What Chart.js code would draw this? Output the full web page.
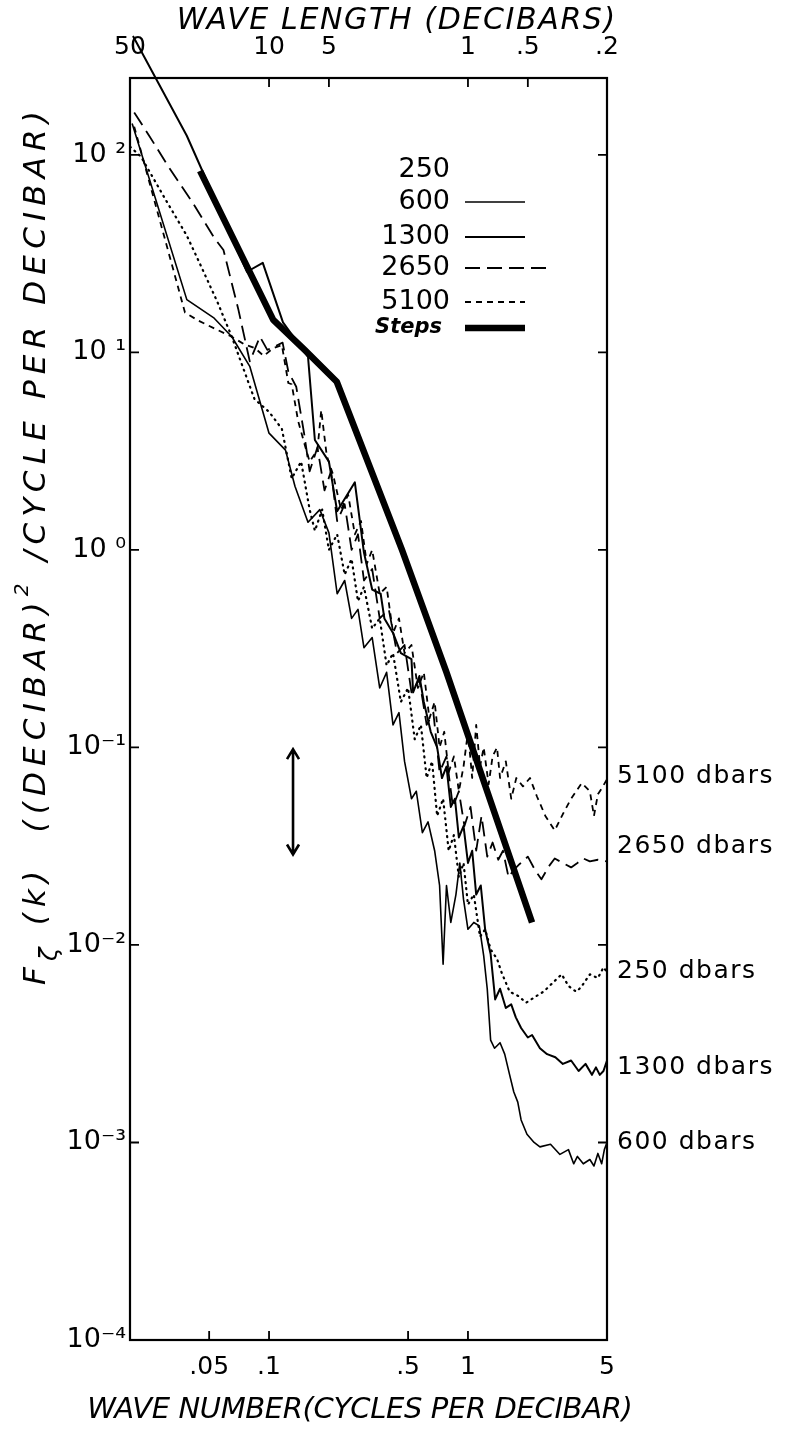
<!DOCTYPE html>
<html>
<head>
<meta charset="utf-8">
<title>Wave number spectra</title>
<script src="https://cdn.jsdelivr.net/npm/chart.js@4.4.1/dist/chart.umd.min.js"></script>
<style>
html,body{margin:0;padding:0;background:#ffffff;}
canvas{display:block;}
</style>
</head>
<body>
<canvas id="chart" width="787" height="1429"></canvas>
<script>
// ---------------- DATA ----------------
const seriesNames = ['250', '600', '1300', '2650', '5100', 'Steps'];

const k250 = [0.02, 0.0227, 0.03, 0.0386, 0.045, 0.055, 0.065, 0.0845, 0.1, 0.116, 0.13, 0.145, 0.16, 0.17, 0.185, 0.2, 0.22, 0.24, 0.26, 0.28, 0.3, 0.33, 0.36, 0.39, 0.42, 0.46, 0.5, 0.54, 0.58, 0.62, 0.66, 0.7, 0.75, 0.8, 0.85, 0.9, 0.95, 1.0, 1.07, 1.15, 1.22, 1.3, 1.4, 1.48, 1.62, 1.8, 1.96, 2.2, 2.4, 2.74, 2.96, 3.2, 3.5, 3.7, 4.1, 4.5, 4.8, 5.0];
const v250 = [110, 98, 60, 39, 28, 18, 12, 5.8, 5.0, 4.1, 2.3, 2.8, 1.6, 1.25, 1.6, 1.0, 1.2, 0.75, 0.9, 0.55, 0.65, 0.4, 0.45, 0.26, 0.3, 0.17, 0.2, 0.11, 0.13, 0.07, 0.085, 0.045, 0.055, 0.03, 0.036, 0.022, 0.026, 0.016, 0.018, 0.011, 0.012, 0.0095, 0.0085, 0.0072, 0.0058, 0.0055, 0.0051, 0.0055, 0.0058, 0.0066, 0.0071, 0.0062, 0.0058, 0.0061, 0.0071, 0.0068, 0.0077, 0.0073];

const k600 = [0.0205, 0.0386, 0.053, 0.065, 0.08, 0.1, 0.121, 0.135, 0.157, 0.18, 0.2, 0.22, 0.24, 0.26, 0.28, 0.3, 0.33, 0.36, 0.39, 0.42, 0.45, 0.48, 0.52, 0.55, 0.59, 0.63, 0.68, 0.72, 0.75, 0.78, 0.82, 0.87, 0.91, 0.95, 1.0, 1.07, 1.14, 1.2, 1.25, 1.3, 1.36, 1.45, 1.53, 1.62, 1.7, 1.78, 1.85, 1.98, 2.15, 2.3, 2.6, 2.9, 3.2, 3.4, 3.55, 3.8, 4.1, 4.3, 4.5, 4.7, 4.85, 5.0];
const v600 = [144, 18.5, 14.9, 12, 8.5, 3.9, 3.2, 2.1, 1.38, 1.6, 1.22, 0.6, 0.7, 0.45, 0.5, 0.32, 0.36, 0.2, 0.24, 0.13, 0.15, 0.085, 0.055, 0.06, 0.037, 0.042, 0.03, 0.02, 0.008, 0.02, 0.013, 0.018, 0.026, 0.017, 0.012, 0.013, 0.0125, 0.0088, 0.006, 0.0033, 0.003, 0.0032, 0.0028, 0.0022, 0.0018, 0.0016, 0.0013, 0.0011, 0.001, 0.00095, 0.00098, 0.00087, 0.00092, 0.00078, 0.00085, 0.00078, 0.00082, 0.00076, 0.00088, 0.00078, 0.00092, 0.001];

const k1300 = [0.0207, 0.0386, 0.0775, 0.093, 0.1175, 0.157, 0.17, 0.2, 0.22, 0.27, 0.3, 0.33, 0.364, 0.38, 0.42, 0.46, 0.52, 0.53, 0.57, 0.6, 0.65, 0.7, 0.74, 0.78, 0.82, 0.86, 0.9, 0.95, 1.0, 1.05, 1.1, 1.16, 1.22, 1.3, 1.37, 1.45, 1.55, 1.65, 1.74, 1.85, 2.0, 2.1, 2.3, 2.5, 2.75, 3.0, 3.3, 3.6, 3.9, 4.2, 4.4, 4.6, 4.8, 5.0];
const v1300 = [400, 125, 25.6, 28.4, 14.2, 9.5, 3.6, 2.8, 1.57, 2.2, 0.97, 0.63, 0.6, 0.45, 0.38, 0.3, 0.28, 0.19, 0.23, 0.17, 0.12, 0.1, 0.07, 0.08, 0.05, 0.055, 0.035, 0.04, 0.026, 0.03, 0.018, 0.02, 0.012, 0.009, 0.0053, 0.006, 0.0048, 0.005, 0.0043, 0.0038, 0.0034, 0.0035, 0.003, 0.0028, 0.0027, 0.0025, 0.0026, 0.0023, 0.0025, 0.0022, 0.0024, 0.0022, 0.0023, 0.0026];

const k2650 = [0.021, 0.0251, 0.031, 0.041, 0.053, 0.059, 0.070, 0.08, 0.09, 0.098, 0.117, 0.125, 0.137, 0.15, 0.16, 0.175, 0.19, 0.205, 0.22, 0.24, 0.26, 0.28, 0.3, 0.33, 0.36, 0.4, 0.44, 0.48, 0.52, 0.57, 0.62, 0.67, 0.72, 0.78, 0.84, 0.9, 0.96, 1.03, 1.1, 1.17, 1.25, 1.33, 1.42, 1.5, 1.6, 1.7, 1.82, 2.0, 2.17, 2.34, 2.55, 2.73, 3.0, 3.3, 3.55, 3.8, 4.1, 4.5, 5.0];
const v2650 = [164, 124, 88, 58, 38, 33, 16.6, 9, 12, 10.3, 11.2, 8, 6.7, 3.9, 2.5, 3.3, 2.0, 2.5, 1.4, 1.7, 1.0, 1.2, 0.7, 0.8, 0.45, 0.5, 0.3, 0.33, 0.19, 0.22, 0.13, 0.15, 0.075, 0.09, 0.05, 0.06, 0.04, 0.05, 0.03, 0.045, 0.028, 0.033, 0.027, 0.03, 0.022, 0.024, 0.0257, 0.028, 0.024, 0.0215, 0.025, 0.0274, 0.026, 0.0247, 0.026, 0.0274, 0.0265, 0.027, 0.0265];

const k5100 = [0.021, 0.0378, 0.044, 0.055, 0.065, 0.075, 0.085, 0.094, 0.105, 0.116, 0.125, 0.13, 0.14, 0.15, 0.16, 0.175, 0.183, 0.195, 0.21, 0.23, 0.25, 0.27, 0.29, 0.31, 0.33, 0.36, 0.39, 0.42, 0.45, 0.48, 0.52, 0.56, 0.6, 0.64, 0.68, 0.72, 0.76, 0.8, 0.85, 0.9, 0.95, 1.0, 1.05, 1.1, 1.15, 1.2, 1.27, 1.33, 1.4, 1.45, 1.55, 1.65, 1.75, 1.89, 2.05, 2.22, 2.45, 2.73, 3.0, 3.3, 3.73, 4.1, 4.3, 4.5, 4.7, 5.0];
const v5100 = [139, 15.9, 14.5, 13, 12, 11, 10.5, 9.6, 10.5, 10.9, 7, 6.9, 4.5, 3.5, 2.8, 3.2, 5.1, 3.0, 2.4, 1.6, 1.9, 1.2, 1.4, 0.85, 1.0, 0.6, 0.65, 0.38, 0.45, 0.3, 0.33, 0.2, 0.24, 0.14, 0.17, 0.1, 0.12, 0.075, 0.09, 0.06, 0.08, 0.12, 0.07, 0.13, 0.08, 0.1, 0.065, 0.09, 0.1, 0.07, 0.085, 0.055, 0.07, 0.0635, 0.07, 0.0566, 0.045, 0.038, 0.046, 0.055, 0.066, 0.06, 0.045, 0.058, 0.062, 0.069];

const kSteps = [0.045, 0.105, 0.151, 0.219, 0.466, 0.78, 2.1];
const vSteps = [83, 14.6, 10.3, 7.1, 1.0, 0.24, 0.013];

// axes
const kMin = 0.02, kMax = 5;
const fMin = 1e-4, fMax = 245;
const bottomTicks = [0.05, 0.1, 0.5, 1, 5];
const bottomTickLabels = ['.05', '.1', '.5', '1', '5'];
const topTicks = [0.02, 0.1, 0.2, 1, 2, 5];
const topTickLabels = ['50', '10', '5', '1', '.5', '.2'];
const yTicks = [1e2, 1e1, 1e0, 1e-1, 1e-2, 1e-3, 1e-4];
const yTickLabels = ['10 \u00B2', '10 \u00B9', '10 \u2070', '10\u207B\u00B9', '10\u207B\u00B2', '10\u207B\u00B3', '10\u207B\u2074'];

// annotations
const endLabels = ['5100 dbars', '2650 dbars', '250 dbars', '1300 dbars', '600 dbars'];
const endLabelValues = [0.071, 0.0315, 0.0073, 0.0024, 0.001];
const arrowK = 0.132;
const arrowSpan = [0.098, 0.0287];

const topTitle = 'WAVE LENGTH (DECIBARS)';
const bottomTitle = 'WAVE NUMBER(CYCLES PER DECIBAR)';
// y title pieces: [text, baseline shift (em), relative size]
const yTitleParts = [['F', 0, 1], ['\u03B6', 0.45, 0.8], [' (k)  ((DECIBAR)', 0, 1], ['2', -0.45, 0.65], [' /CYCLE PER DECIBAR)', 0, 1]];

// ---------------- CHART ----------------
const FONT = "'DejaVu Sans', sans-serif";
const pts = (ks, vs) => ks.map((k, i) => ({x: k, y: vs[i]}));

const styles = [
  {borderWidth: 2.2, borderDash: [1, 5], borderCapStyle: 'round'},
  {borderWidth: 1.6, borderDash: []},
  {borderWidth: 2.0, borderDash: [], clip: false},
  {borderWidth: 1.8, borderDash: [15, 7]},
  {borderWidth: 1.8, borderDash: [6, 5]},
  {borderWidth: 6.5, borderDash: [], borderCapStyle: 'butt'}
];
const seriesData = [pts(k250, v250), pts(k600, v600), pts(k1300, v1300), pts(k2650, v2650), pts(k5100, v5100), pts(kSteps, vSteps)];

const datasets = seriesNames.map((name, i) => Object.assign({
  label: name,
  data: seriesData[i],
  showLine: true,
  borderColor: '#000',
  backgroundColor: '#000',
  pointRadius: 0,
  pointHoverRadius: 0,
  tension: 0,
  borderJoinStyle: 'round',
  fill: false
}, styles[i]));

function fitText(ctx, text, x, y, target, font) {
  ctx.font = font;
  ctx.letterSpacing = '0px';
  const w0 = ctx.measureText(text).width;
  const ls = (target - w0) / text.length;
  ctx.letterSpacing = ls.toFixed(2) + 'px';
  ctx.fillText(text, x + ls / 2, y);
  ctx.letterSpacing = '0px';
}

// draws mixed-size text pieces centred on (0,0) spread to a target width
function fitParts(ctx, parts, target, size, style) {
  ctx.letterSpacing = '0px';
  let w0 = 0, n = 0;
  parts.forEach(p => { ctx.font = style + ' ' + (size * p[2]) + 'px ' + FONT; w0 += ctx.measureText(p[0]).width; n += p[0].length; });
  const ls = (target - w0) / n;
  let x = -target / 2;
  ctx.textAlign = 'left';
  ctx.letterSpacing = ls.toFixed(2) + 'px';
  parts.forEach(p => {
    ctx.font = style + ' ' + (size * p[2]) + 'px ' + FONT;
    ctx.fillText(p[0], x, p[1] * size);
    x += ctx.measureText(p[0]).width;
  });
  ctx.letterSpacing = '0px';
}

const framePlugin = {
  id: 'frame',
  afterDatasetsDraw(chart) {
    const {ctx, chartArea: a, scales} = chart;
    ctx.save();
    ctx.strokeStyle = '#000';
    ctx.lineWidth = 2.2;
    ctx.strokeRect(a.left, a.top, a.right - a.left, a.bottom - a.top);
    ctx.lineWidth = 1.8;
    const L = 9;
    ctx.beginPath();
    scales.x.ticks.forEach(t => {
      const p = scales.x.getPixelForValue(t.value);
      if (p > a.left + 2 && p < a.right - 2) { ctx.moveTo(p, a.bottom); ctx.lineTo(p, a.bottom - L); }
    });
    scales.xTop.ticks.forEach(t => {
      const p = scales.xTop.getPixelForValue(t.value);
      if (p > a.left + 2 && p < a.right - 2) { ctx.moveTo(p, a.top); ctx.lineTo(p, a.top + L); }
    });
    scales.y.ticks.forEach(t => {
      const p = scales.y.getPixelForValue(t.value);
      if (p > a.top + 2 && p < a.bottom - 2) {
        ctx.moveTo(a.left, p); ctx.lineTo(a.left + L, p);
        ctx.moveTo(a.right, p); ctx.lineTo(a.right - L, p);
      }
    });
    ctx.stroke();

    // double-headed arrow
    const ax = scales.x.getPixelForValue(arrowK);
    const ay1 = scales.y.getPixelForValue(arrowSpan[0]);
    const ay2 = scales.y.getPixelForValue(arrowSpan[1]);
    ctx.lineWidth = 2.6;
    ctx.beginPath();
    ctx.moveTo(ax, ay1); ctx.lineTo(ax, ay2);
    ctx.moveTo(ax - 6, ay1 + 10); ctx.lineTo(ax, ay1); ctx.lineTo(ax + 6, ay1 + 10);
    ctx.moveTo(ax - 6, ay2 - 10); ctx.lineTo(ax, ay2); ctx.lineTo(ax + 6, ay2 - 10);
    ctx.stroke();
    ctx.restore();
  },
  afterDraw(chart) {
    const {ctx, chartArea: a, scales} = chart;
    ctx.save();
    ctx.fillStyle = '#000';
    ctx.strokeStyle = '#000';

    // legend (inside plot)
    const rows = [92, 124, 159, 190, 224, 250];
    const textRight = a.left + 320;
    chart.data.datasets.forEach((ds, i) => {
      const y = a.top + rows[i];
      ctx.textAlign = 'right';
      ctx.textBaseline = 'middle';
      if (ds.label === 'Steps') {
        ctx.font = 'italic bold 21px ' + FONT;
        ctx.fillText(ds.label, textRight - 8, y);
      } else {
        ctx.font = '27px ' + FONT;
        ctx.fillText(ds.label, textRight, y);
      }
      if (i === 0) return; // dotted 250 sample not visible in original
      const x0 = textRight + 15;
      const x1 = ds.label === '2650' ? textRight + 96 : textRight + 75;
      ctx.save();
      ctx.lineWidth = ds.borderWidth;
      ctx.setLineDash(ds.borderDash || []);
      ctx.lineCap = 'butt';
      ctx.beginPath(); ctx.moveTo(x0, y); ctx.lineTo(x1, y); ctx.stroke();
      ctx.restore();
    });

    // end labels on right
    ctx.textAlign = 'left';
    ctx.textBaseline = 'middle';
    ctx.font = '25px ' + FONT;
    ctx.letterSpacing = '1.5px';
    endLabels.forEach((t, i) => {
      ctx.fillText(t, a.right + 10, scales.y.getPixelForValue(endLabelValues[i]));
    });
    ctx.letterSpacing = '0px';

    // titles
    ctx.textAlign = 'center';
    ctx.textBaseline = 'middle';
    fitText(ctx, topTitle, 396, 21, 440, 'italic 30px ' + FONT);
    fitText(ctx, bottomTitle, 360, 1410, 545, 'italic 29px ' + FONT);
    ctx.save();
    ctx.translate(37, 545);
    ctx.rotate(-Math.PI / 2);
    ctx.textBaseline = 'middle';
    fitParts(ctx, yTitleParts, 880, 31, 'italic');
    ctx.restore();
    ctx.restore();
  }
};

new Chart(document.getElementById('chart'), {
  type: 'scatter',
  data: {datasets},
  options: {
    responsive: false,
    devicePixelRatio: 1,
    animation: false,
    events: [],
    layout: {padding: {left: 0, right: 180, top: 0, bottom: 0}},
    plugins: {legend: {display: false}, tooltip: {enabled: false}},
    scales: {
      x: {
        type: 'logarithmic', position: 'bottom', min: kMin, max: kMax,
        afterBuildTicks: s => { s.ticks = bottomTicks.map(v => ({value: v})); },
        afterFit: s => { s.height = 89; },
        grid: {display: false, drawTicks: false}, border: {display: false},
        ticks: {callback: (v, i) => bottomTickLabels[i], font: {family: FONT, size: 25}, color: '#000', padding: 12, maxRotation: 0, autoSkip: false}
      },
      xTop: {
        type: 'logarithmic', position: 'top', min: kMin, max: kMax,
        afterBuildTicks: s => { s.ticks = topTicks.map(v => ({value: v})); },
        afterFit: s => { s.height = 78; },
        grid: {display: false, drawTicks: false}, border: {display: false},
        ticks: {callback: (v, i) => topTickLabels[i], font: {family: FONT, size: 25}, color: '#000', padding: 16, maxRotation: 0, autoSkip: false}
      },
      y: {
        type: 'logarithmic', position: 'left', min: fMin, max: fMax,
        afterBuildTicks: s => { s.ticks = yTicks.map(v => ({value: v})); },
        afterFit: s => { s.width = 130; },
        grid: {display: false, drawTicks: false}, border: {display: false},
        ticks: {callback: (v, i) => yTickLabels[i], font: {family: FONT, size: 27}, color: '#000', padding: 4, autoSkip: false}
      }
    }
  },
  plugins: [framePlugin]
});
</script>
</body>
</html>
